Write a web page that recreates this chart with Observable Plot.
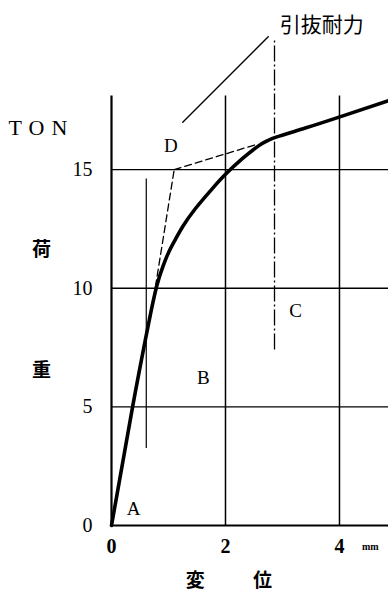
<!DOCTYPE html>
<html>
<head>
<meta charset="utf-8">
<script src="https://cdn.jsdelivr.net/npm/d3@7"></script>
<script src="https://cdn.jsdelivr.net/npm/@observablehq/plot@0.6"></script>
<style>
  html, body { margin: 0; padding: 0; background: #fff; }
  svg { display: block; }
</style>
</head>
<body>
<div id="chart"></div>
<script>
// Load–displacement curve (荷重 TON vs 変位 mm)
const curveX = [0, 0.37, 0.6, 0.7, 0.8, 0.9, 1.0, 1.12, 1.25, 1.47, 1.77, 2.0, 2.29, 2.58, 2.74, 2.9, 3.4, 3.98, 4.86];
const curveY = [0, 5.0, 7.9, 9.1, 10.15, 10.9, 11.5, 12.05, 12.6, 13.35, 14.2, 14.8, 15.45, 16.0, 16.22, 16.38, 16.75, 17.2, 17.9];

// construction lines
const tangentInitialX = [0.74, 1.1];
const tangentInitialY = [9.6, 15.0];
const tangentLaterX = [1.1, 2.57];
const tangentLaterY = [15.0, 16.08];
const leaderX = [1.25, 2.75];
const leaderY = [17.0, 20.6];
const markerLineX = [0.61];
const markerLineY = [3.25, 14.6];
const ultimateLineX = [2.86];
const ultimateLineY = [7.4, 20.5];

// grid
const gridY = [5, 10, 15];
const gridX = [2, 4];
const xTicks = [0, 2, 4];
const yTicks = [0, 5, 10, 15];
const xMax = 4.86;
const yMax = 22;
const gridTop = 18.1;

// point labels
const pointLabels = ["A", "B", "C", "D"];
const pointLabelX = [0.39, 1.61, 3.23, 1.04];
const pointLabelY = [0.72, 6.2, 9.06, 16.0];

const titleText = "引抜耐力";
const unitText = "mm";
const yUnitText = "TON";
const yTitleChars = ["荷", "重"];
const xTitleChars = ["変", "位"];

const curve = curveX.map((x, i) => ({x, y: curveY[i]}));
const tan1 = tangentInitialX.map((x, i) => ({x, y: tangentInitialY[i]}));
const tan2 = tangentLaterX.map((x, i) => ({x, y: tangentLaterY[i]}));
const leader = leaderX.map((x, i) => ({x, y: leaderY[i]}));
const labels = pointLabels.map((t, i) => ({t, x: pointLabelX[i], y: pointLabelY[i]}));

const serif = "Liberation Serif";
const cjk = "Noto Sans CJK JP";

const chart = Plot.plot({
  width: 388,
  height: 594,
  marginLeft: 111,
  marginRight: 0,
  marginTop: 3,
  marginBottom: 69,
  style: {background: "#fff", color: "#000", fontFamily: "'Liberation Serif', serif"},
  x: {domain: [0, xMax]},
  y: {domain: [0, yMax]},
  marks: [
    Plot.ruleY(gridY, {x1: 0, x2: xMax, stroke: "#000", strokeWidth: 1.4}),
    Plot.ruleX(gridX, {y1: 0, y2: gridTop, stroke: "#000", strokeWidth: 1.5}),
    Plot.ruleX([0], {y1: 0, y2: gridTop, stroke: "#000", strokeWidth: 2.2}),
    Plot.ruleY([0], {x1: 0, x2: xMax, stroke: "#000", strokeWidth: 2.2}),
    Plot.ruleX(markerLineX, {y1: markerLineY[0], y2: markerLineY[1], stroke: "#000", strokeWidth: 1.2}),
    Plot.ruleX(ultimateLineX, {y1: ultimateLineY[0], y2: ultimateLineY[1], stroke: "#000", strokeWidth: 1.3, strokeDasharray: "16,3,2,3"}),
    Plot.line(tan1, {x: "x", y: "y", stroke: "#000", strokeWidth: 1.3, strokeDasharray: "7,4"}),
    Plot.line(tan2, {x: "x", y: "y", stroke: "#000", strokeWidth: 1.3, strokeDasharray: "7,4"}),
    Plot.line(leader, {x: "x", y: "y", stroke: "#000", strokeWidth: 1.4}),
    Plot.line(curve, {x: "x", y: "y", stroke: "#000", strokeWidth: 3.6, curve: "natural", strokeLinecap: "round"}),
    Plot.text(labels, {x: "x", y: "y", text: "t", fontSize: 19, fontFamily: serif, fill: "#000"}),
    Plot.text([titleText], {x: 2.95, y: 21.1, textAnchor: "start", fontSize: 21, fontFamily: cjk, fill: "#000"}),
    Plot.axisY(yTicks, {tickSize: 0, tickPadding: 19, fontSize: 20, fontFamily: serif, label: null}),
    Plot.axisX(xTicks, {tickSize: 0, tickPadding: 13, fontSize: 20, fontFamily: serif, fontWeight: "bold", label: null}),
    Plot.text([unitText], {x: 4.54, y: -0.88, fontSize: 10, fontFamily: serif, fontWeight: "bold", fill: "#000"}),
    Plot.text([yUnitText], {x: -1.23, y: 16.75, fontSize: 22, fontFamily: serif, fill: "#000"}),
    Plot.text([yTitleChars[0]], {x: -1.23, y: 11.6, fontSize: 19, fontFamily: cjk, fontWeight: "bold", fill: "#000"}),
    Plot.text([yTitleChars[1]], {x: -1.23, y: 6.5, fontSize: 19, fontFamily: cjk, fontWeight: "bold", fill: "#000"}),
    Plot.text([xTitleChars[0]], {x: 1.47, y: -2.33, fontSize: 19, fontFamily: cjk, fontWeight: "bold", fill: "#000"}),
    Plot.text([xTitleChars[1]], {x: 2.65, y: -2.33, fontSize: 19, fontFamily: cjk, fontWeight: "bold", fill: "#000"})
  ]
});
// letter spacing for "TON"
chart.querySelectorAll("text").forEach(t => {
  if (t.textContent === yUnitText) t.setAttribute("letter-spacing", "7");
});
document.getElementById("chart").appendChild(chart);
</script>
</body>
</html>
